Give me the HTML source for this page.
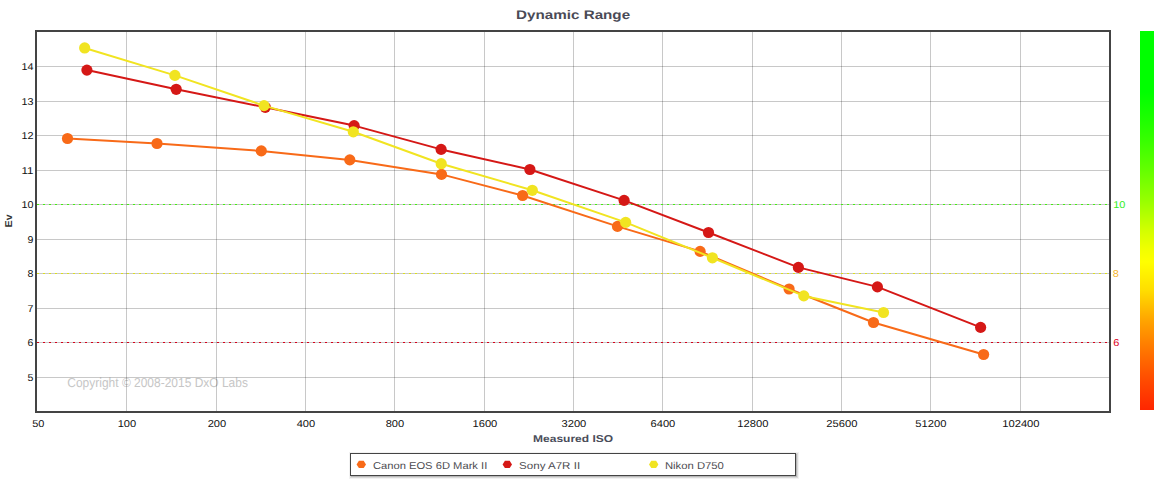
<!DOCTYPE html><html><head><meta charset="utf-8"><style>html,body{margin:0;padding:0;background:#fff;overflow:hidden}svg{display:block}text{text-rendering:geometricPrecision}</style></head><body>
<svg width="1160" height="484" viewBox="0 0 1160 484" font-family="Liberation Sans, sans-serif">
<defs><linearGradient id="g" gradientUnits="userSpaceOnUse" x1="0" y1="31" x2="0" y2="410"><stop offset="0.0000" stop-color="#00ff00"/><stop offset="0.1609" stop-color="#00ff00"/><stop offset="0.2348" stop-color="#1eff00"/><stop offset="0.2876" stop-color="#37ff00"/><stop offset="0.3668" stop-color="#64ff00"/><stop offset="0.4459" stop-color="#96ff00"/><stop offset="0.5251" stop-color="#d2ff00"/><stop offset="0.5778" stop-color="#f2ff00"/><stop offset="0.6095" stop-color="#ffff00"/><stop offset="0.6253" stop-color="#fff800"/><stop offset="0.6834" stop-color="#ffde00"/><stop offset="0.7625" stop-color="#ffa500"/><stop offset="0.8417" stop-color="#ff7600"/><stop offset="0.9208" stop-color="#ff4b00"/><stop offset="0.9842" stop-color="#ff2d00"/><stop offset="1.0000" stop-color="#ff2600"/></linearGradient></defs>
<text x="573.1" y="18.7" text-anchor="middle" font-weight="bold" font-size="12.5" textLength="114" lengthAdjust="spacingAndGlyphs" fill="#4a4a56">Dynamic Range</text>
<text x="67.3" y="387" font-size="13" textLength="180.6" lengthAdjust="spacingAndGlyphs" fill="#c6c6c6">Copyright © 2008-2015 DxO Labs</text>
<path d="M126.5 32V411 M216.5 32V411 M305.5 32V411 M394.5 32V411 M484.5 32V411 M573.5 32V411 M662.5 32V411 M752.5 32V411 M841.5 32V411 M930.5 32V411 M1020.5 32V411" stroke="#000" stroke-opacity="0.215" stroke-width="1" fill="none"/>
<path d="M37 377.5H1109 M37 342.5H1109 M37 308.5H1109 M37 273.5H1109 M37 239.5H1109 M37 204.5H1109 M37 170.5H1109 M37 135.5H1109 M37 101.5H1109 M37 66.5H1109" stroke="#000" stroke-opacity="0.215" stroke-width="1" fill="none"/>
<path d="M37 204.5H1109" stroke="#44ee11" stroke-width="1" stroke-dasharray="2 4" fill="none"/>
<path d="M37 273.5H1109" stroke="#dcdf1c" stroke-width="1" stroke-dasharray="2 4" fill="none"/>
<path d="M37 342.5H1109" stroke="#d4001a" stroke-width="1" stroke-dasharray="2 4" fill="none"/>
<path d="M67.5 138.5 L157 143.5 L261.3 150.9 L349.8 159.9 L441.5 174.4 L522.6 195.5 L617.5 226.4 L700.1 251.4 L789.1 289 L873.5 322.5 L983.6 354.5" stroke="#f86a18" stroke-width="2" fill="none" stroke-linejoin="round"/><circle cx="67.5" cy="138.5" r="5.6" fill="#f86a18"/><circle cx="157" cy="143.5" r="5.6" fill="#f86a18"/><circle cx="261.3" cy="150.9" r="5.6" fill="#f86a18"/><circle cx="349.8" cy="159.9" r="5.6" fill="#f86a18"/><circle cx="441.5" cy="174.4" r="5.6" fill="#f86a18"/><circle cx="522.6" cy="195.5" r="5.6" fill="#f86a18"/><circle cx="617.5" cy="226.4" r="5.6" fill="#f86a18"/><circle cx="700.1" cy="251.4" r="5.6" fill="#f86a18"/><circle cx="789.1" cy="289" r="5.6" fill="#f86a18"/><circle cx="873.5" cy="322.5" r="5.6" fill="#f86a18"/><circle cx="983.6" cy="354.5" r="5.6" fill="#f86a18"/>
<path d="M86.9 70.1 L176.2 89.3 L265.3 107.3 L354.1 125.6 L441.1 149.4 L529.9 169.5 L624.1 200.4 L708.5 232.5 L798.4 267.4 L877.4 286.9 L980.6 327.4" stroke="#d51816" stroke-width="2" fill="none" stroke-linejoin="round"/><circle cx="86.9" cy="70.1" r="5.6" fill="#d51816"/><circle cx="176.2" cy="89.3" r="5.6" fill="#d51816"/><circle cx="265.3" cy="107.3" r="5.6" fill="#d51816"/><circle cx="354.1" cy="125.6" r="5.6" fill="#d51816"/><circle cx="441.1" cy="149.4" r="5.6" fill="#d51816"/><circle cx="529.9" cy="169.5" r="5.6" fill="#d51816"/><circle cx="624.1" cy="200.4" r="5.6" fill="#d51816"/><circle cx="708.5" cy="232.5" r="5.6" fill="#d51816"/><circle cx="798.4" cy="267.4" r="5.6" fill="#d51816"/><circle cx="877.4" cy="286.9" r="5.6" fill="#d51816"/><circle cx="980.6" cy="327.4" r="5.6" fill="#d51816"/>
<path d="M84.65 47.95 L174.9 75.4 L264 105.6 L353.3 131.8 L441.2 163.7 L532.3 190.3 L625.7 222.4 L712.4 257.8 L803.8 295.9 L883.5 312.5" stroke="#f1e421" stroke-width="2" fill="none" stroke-linejoin="round"/><circle cx="84.65" cy="47.95" r="5.6" fill="#f1e421"/><circle cx="174.9" cy="75.4" r="5.6" fill="#f1e421"/><circle cx="264" cy="105.6" r="5.6" fill="#f1e421"/><circle cx="353.3" cy="131.8" r="5.6" fill="#f1e421"/><circle cx="441.2" cy="163.7" r="5.6" fill="#f1e421"/><circle cx="532.3" cy="190.3" r="5.6" fill="#f1e421"/><circle cx="625.7" cy="222.4" r="5.6" fill="#f1e421"/><circle cx="712.4" cy="257.8" r="5.6" fill="#f1e421"/><circle cx="803.8" cy="295.9" r="5.6" fill="#f1e421"/><circle cx="883.5" cy="312.5" r="5.6" fill="#f1e421"/>
<rect x="36" y="31" width="1074" height="381" fill="none" stroke="#444" stroke-width="2"/>
<text x="33.4" y="381.0" text-anchor="end" font-size="10" textLength="5.9" lengthAdjust="spacingAndGlyphs" fill="#111">5</text>
<text x="33.4" y="346.0" text-anchor="end" font-size="10" textLength="5.9" lengthAdjust="spacingAndGlyphs" fill="#111">6</text>
<text x="33.4" y="312.0" text-anchor="end" font-size="10" textLength="5.9" lengthAdjust="spacingAndGlyphs" fill="#111">7</text>
<text x="33.4" y="277.0" text-anchor="end" font-size="10" textLength="5.9" lengthAdjust="spacingAndGlyphs" fill="#111">8</text>
<text x="33.4" y="243.0" text-anchor="end" font-size="10" textLength="5.9" lengthAdjust="spacingAndGlyphs" fill="#111">9</text>
<text x="33.4" y="208.0" text-anchor="end" font-size="10" textLength="12.0" lengthAdjust="spacingAndGlyphs" fill="#111">10</text>
<text x="33.4" y="174.0" text-anchor="end" font-size="10" textLength="12.0" lengthAdjust="spacingAndGlyphs" fill="#111">11</text>
<text x="33.4" y="139.0" text-anchor="end" font-size="10" textLength="12.0" lengthAdjust="spacingAndGlyphs" fill="#111">12</text>
<text x="33.4" y="105.0" text-anchor="end" font-size="10" textLength="12.0" lengthAdjust="spacingAndGlyphs" fill="#111">13</text>
<text x="33.4" y="70.0" text-anchor="end" font-size="10" textLength="12.0" lengthAdjust="spacingAndGlyphs" fill="#111">14</text>
<text x="38.3" y="427" text-anchor="middle" font-size="10" textLength="12.2" lengthAdjust="spacingAndGlyphs" fill="#111">50</text>
<text x="126.9" y="427" text-anchor="middle" font-size="10" textLength="18.5" lengthAdjust="spacingAndGlyphs" fill="#111">100</text>
<text x="216.9" y="427" text-anchor="middle" font-size="10" textLength="18.5" lengthAdjust="spacingAndGlyphs" fill="#111">200</text>
<text x="305.9" y="427" text-anchor="middle" font-size="10" textLength="18.5" lengthAdjust="spacingAndGlyphs" fill="#111">400</text>
<text x="394.9" y="427" text-anchor="middle" font-size="10" textLength="18.5" lengthAdjust="spacingAndGlyphs" fill="#111">800</text>
<text x="484.9" y="427" text-anchor="middle" font-size="10" textLength="24.8" lengthAdjust="spacingAndGlyphs" fill="#111">1600</text>
<text x="573.9" y="427" text-anchor="middle" font-size="10" textLength="24.8" lengthAdjust="spacingAndGlyphs" fill="#111">3200</text>
<text x="662.9" y="427" text-anchor="middle" font-size="10" textLength="24.8" lengthAdjust="spacingAndGlyphs" fill="#111">6400</text>
<text x="752.9" y="427" text-anchor="middle" font-size="10" textLength="31.1" lengthAdjust="spacingAndGlyphs" fill="#111">12800</text>
<text x="841.9" y="427" text-anchor="middle" font-size="10" textLength="31.1" lengthAdjust="spacingAndGlyphs" fill="#111">25600</text>
<text x="930.9" y="427" text-anchor="middle" font-size="10" textLength="31.1" lengthAdjust="spacingAndGlyphs" fill="#111">51200</text>
<text x="1020.9" y="427" text-anchor="middle" font-size="10" textLength="37.4" lengthAdjust="spacingAndGlyphs" fill="#111">102400</text>
<text x="573.1" y="441.8" text-anchor="middle" font-weight="bold" font-size="10" textLength="80" lengthAdjust="spacingAndGlyphs" fill="#4a4d5a">Measured ISO</text>
<text transform="translate(11.6 220.9) rotate(-90)" text-anchor="middle" font-weight="bold" font-size="10" textLength="13" lengthAdjust="spacingAndGlyphs" fill="#333">Ev</text>
<text x="1113.2" y="208" font-size="10" textLength="12.2" lengthAdjust="spacingAndGlyphs" fill="#33ee22">10</text>
<text x="1112.8" y="277" font-size="10" textLength="6.1" lengthAdjust="spacingAndGlyphs" fill="#f5b52a">8</text>
<text x="1113.2" y="346" font-size="10" textLength="6.1" lengthAdjust="spacingAndGlyphs" fill="#dd0022">6</text>
<rect x="1140" y="31" width="14" height="379" fill="url(#g)"/>
<rect x="351.5" y="454.5" width="445" height="22" fill="none" stroke="#000" stroke-opacity="0.05" stroke-width="5"/>
<rect x="351.5" y="454.5" width="445" height="22" fill="none" stroke="#000" stroke-opacity="0.1" stroke-width="3"/>
<rect x="351.5" y="454.5" width="445" height="22" fill="none" stroke="#000" stroke-opacity="0.15" stroke-width="1"/>
<rect x="350.5" y="453.5" width="445" height="22" fill="#fff" stroke="#444" stroke-width="1"/>
<polygon points="356.60,464.40 358.90,460.70 363.70,460.70 366.00,464.40 363.70,468.10 358.90,468.10" fill="#f86a18"/>
<text x="372.9" y="469" font-size="10" textLength="114.4" lengthAdjust="spacingAndGlyphs" fill="#4d4d52">Canon EOS 6D Mark II</text>
<polygon points="502.60,464.40 504.90,460.70 509.70,460.70 512.00,464.40 509.70,468.10 504.90,468.10" fill="#d51816"/>
<text x="519.1" y="469" font-size="10" textLength="61" lengthAdjust="spacingAndGlyphs" fill="#4d4d52">Sony A7R II</text>
<polygon points="649.00,464.40 651.30,460.70 656.10,460.70 658.40,464.40 656.10,468.10 651.30,468.10" fill="#f1e421"/>
<text x="664.9" y="469" font-size="10" textLength="59" lengthAdjust="spacingAndGlyphs" fill="#4d4d52">Nikon D750</text>
</svg></body></html>
